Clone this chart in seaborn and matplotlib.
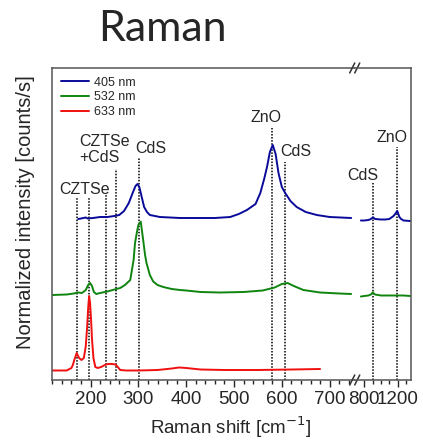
import numpy as np
import pandas as pd
import matplotlib
matplotlib.use("Agg")
import matplotlib.pyplot as plt
from matplotlib.ticker import MultipleLocator, FixedLocator
import seaborn as sns

# spectra, intensity above each trace's own baseline
red_x = [120, 150, 160, 163, 166, 171, 176, 181, 186, 190, 193, 195, 197, 199, 201, 203, 206, 210,
         215, 222, 230, 236, 245, 252, 257, 262, 275, 300, 340, 370, 385, 400, 430, 480, 550, 620, 680]
red_y = [0.05, 0.05, 0.3, 0.6, 1.1, 1.8, 1.3, 1.1, 1.3, 2.5, 4.5, 6.3, 7.5, 6.8, 5.2, 3.2, 1.3, 0.4,
         0.3, 0.4, 0.6, 0.7, 0.7, 0.65, 0.4, 0.1, 0.05, 0.05, 0.1, 0.25, 0.35, 0.3, 0.15, 0.1, 0.1, 0.15, 0.2]

green_x = [120, 150, 165, 174, 182, 190, 195, 199, 203, 207, 212, 220, 235, 250, 262, 272, 283,
           290, 293, 297, 300, 305, 310, 314, 317, 324, 331, 340, 352, 370, 387, 400, 430, 470,
           520, 560, 585, 600, 612, 625, 645, 680, 720, 745]
green_y = [0.0, 0.05, 0.15, 0.25, 0.2, 0.5, 1.0, 1.2, 0.9, 0.3, 0.1, 0.2, 0.35, 0.55, 0.7, 1.0, 1.5,
           3.5, 5.2, 6.3, 7.0, 7.33, 5.5, 4.0, 3.2, 2.0, 1.35, 1.0, 0.8, 0.6, 0.5, 0.45, 0.3, 0.25,
           0.3, 0.45, 0.75, 1.1, 1.2, 0.9, 0.5, 0.25, 0.15, 0.1]

blue_x = [174, 180, 190, 194, 205, 220, 235, 250, 260, 270, 280, 288, 294, 298, 302, 307, 312,
          318, 324, 345, 387, 420, 460, 492, 510, 527, 545, 555, 563, 569, 575, 581, 587, 593,
          600, 607, 618, 631, 650, 673, 700, 745]
blue_y = [0.0, 0.05, 0.15, 0.05, 0.1, 0.2, 0.2, 0.3, 0.4, 0.8, 1.6, 2.6, 3.3, 3.5, 3.2, 2.2, 1.2,
          0.7, 0.4, 0.2, 0.1, 0.1, 0.1, 0.2, 0.5, 0.9, 1.5, 2.6, 4.0, 5.2, 6.7, 7.4, 6.5, 4.6,
          3.2, 2.6, 1.8, 1.2, 0.7, 0.4, 0.2, 0.1]

# high-shift part (after the axis break)
hi_x = [760, 800, 850, 880, 895, 905, 915, 930, 1000, 1050, 1100, 1150, 1170, 1185, 1195, 1205,
        1220, 1240, 1270, 1350]
hi_blue_y = [-0.15, -0.15, -0.1, 0.0, 0.1, 0.15, 0.1, 0.0, -0.05, -0.05, 0.0, 0.3, 0.5, 0.7, 0.8,
             0.55, 0.2, 0.0, -0.15, -0.2]
hi_green_y = [-0.15, -0.1, -0.05, 0.05, 0.2, 0.25, 0.15, 0.05, -0.05, -0.05, -0.05, -0.05, -0.05,
              -0.05, -0.05, -0.05, -0.05, -0.05, -0.05, -0.1]

lasers = ["405 nm", "532 nm", "633 nm"]
offsets = {"405 nm": 16.1, "532 nm": 8.5, "633 nm": 0.9}
colors = {"405 nm": "#0a0a9a", "532 nm": "#0f850f", "633 nm": "#f01010"}

# peak markers: position, top of dotted line
marks_lo = [171, 197, 232, 253, 302, 580, 607]
marks_lo_top = [18.3, 18.3, 18.7, 21.1, 22.3, 25.2, 21.8]
marks_hi = [905, 1195]
marks_hi_top = [19.7, 23.3]

lo = pd.concat([
    pd.DataFrame({"shift": blue_x, "I": np.array(blue_y) + offsets["405 nm"], "laser": "405 nm"}),
    pd.DataFrame({"shift": green_x, "I": np.array(green_y) + offsets["532 nm"], "laser": "532 nm"}),
    pd.DataFrame({"shift": red_x, "I": np.array(red_y) + offsets["633 nm"], "laser": "633 nm"}),
])
hi = pd.concat([
    pd.DataFrame({"shift": hi_x, "I": np.array(hi_blue_y) + offsets["405 nm"], "laser": "405 nm"}),
    pd.DataFrame({"shift": hi_x, "I": np.array(hi_green_y) + offsets["532 nm"], "laser": "532 nm"}),
])

sns.set_style("ticks")
plt.rcParams["font.family"] = ["Liberation Sans", "DejaVu Sans"]

W, H = 423, 441
fig = plt.figure(figsize=(W / 100, H / 100), dpi=100)
x0, xb, x1, yb, yt = 52.3, 355, 410.7, 380, 68
ax1 = fig.add_axes([x0 / W, 1 - yb / H, (xb - x0) / W, (yb - yt) / H])
ax2 = fig.add_axes([xb / W, 1 - yb / H, (x1 - xb) / W, (yb - yt) / H])

sns.lineplot(data=lo, x="shift", y="I", hue="laser", hue_order=lasers, palette=colors,
             estimator=None, sort=False, lw=1.4, ax=ax1)
sns.lineplot(data=hi, x="shift", y="I", hue="laser", hue_order=lasers, palette=colors,
             estimator=None, sort=False, lw=1.4, ax=ax2, legend=False)

for ax, xs, tops in [(ax1, marks_lo, marks_lo_top), (ax2, marks_hi, marks_hi_top)]:
    ax.vlines(xs, 0, tops, colors="black", linestyles=(0, (1, 1)), lw=1.1, zorder=1)
    ax.set_ylim(0, 31.2)
    ax.set_yticks([])
    ax.set_xlabel("")
    ax.set_ylabel("")
    ax.tick_params(axis="x", which="major", direction="out", length=5, width=1, labelsize=13.5, pad=3)
    ax.tick_params(axis="x", which="minor", direction="out", length=3, width=1)
    for s in ax.spines.values():
        s.set_color("#555555")
        s.set_linewidth(1.1)

ax1.set_xlim(120, 753)
ax1.set_xticks([200, 300, 400, 500, 600, 700])
ax1.xaxis.set_minor_locator(MultipleLocator(20))
ax1.spines["right"].set_visible(False)

ax2.set_xlim(690, 1355)
ax2.set_xticks([800, 1200])
ax2.xaxis.set_minor_locator(FixedLocator([900, 1000, 1100, 1300]))
ax2.spines["left"].set_visible(False)

# peak names
fs = 11.5
ax1.text(188, 19.0, "CZTSe", ha="center", va="center", fontsize=fs)
ax1.text(177, 23.05, "CZTSe\n+CdS", ha="left", va="center", fontsize=fs, linespacing=1.05)
ax1.text(325, 23.1, "CdS", ha="center", va="center", fontsize=fs)
ax1.text(567, 26.2, "ZnO", ha="center", va="center", fontsize=fs)
ax1.text(629, 22.8, "CdS", ha="center", va="center", fontsize=fs)
ax2.text(783, 20.5, "CdS", ha="center", va="center", fontsize=fs)
ax2.text(1128, 24.2, "ZnO", ha="center", va="center", fontsize=fs)

# axis break marks
for yy in (0, 1):
    for dx in (-0.05, 0.04):
        ax2.plot([dx - 0.045, dx + 0.045], [yy - 0.016, yy + 0.016], transform=ax2.transAxes,
                 color="#333333", lw=1.1, clip_on=False)

handles, labels = ax1.get_legend_handles_labels()
ax1.legend(handles, labels, loc="upper left", bbox_to_anchor=(0.0, 1.0), frameon=False,
           fontsize=9, handlelength=2.2, handletextpad=0.4, labelspacing=0.22, borderaxespad=0.3)

fig.text(162 / W, 1 - 29 / H, "Raman", ha="center", va="center", fontsize=31, family="Lato")
fig.text(231 / W, 1 - 427 / H, "Raman shift [cm$^{-1}$]", ha="center", va="center", fontsize=13.5)
fig.text(26 / W, 1 - 212 / H, "Normalized intensity [counts/s]", ha="center", va="center",
         fontsize=14.5, rotation=90)

fig.savefig("out.png", dpi=100)
